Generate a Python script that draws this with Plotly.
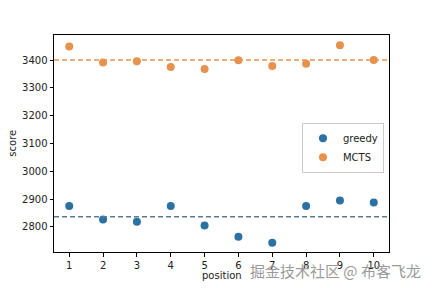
import plotly.graph_objects as go

positions = [1, 2, 3, 4, 5, 6, 7, 8, 9, 10]
greedy = [2875, 2827, 2819, 2875, 2805, 2765, 2743, 2875, 2895, 2888]
mcts = [3449, 3391, 3396, 3375, 3368, 3399, 3379, 3387, 3453, 3400]
y_ticks = [2800, 2900, 3000, 3100, 3200, 3300, 3400]

greedy_mean = sum(greedy) / len(greedy)
mcts_mean = sum(mcts) / len(mcts)

blue = "#2b72a3"
orange = "#e6914c"

fig = go.Figure()
fig.add_trace(go.Scatter(x=positions, y=greedy, mode="markers", name="greedy",
                         marker=dict(color=blue, size=8)))
fig.add_trace(go.Scatter(x=positions, y=mcts, mode="markers", name="MCTS",
                         marker=dict(color=orange, size=8)))
fig.add_hline(y=greedy_mean, line=dict(color="#587d92", width=1.5, dash="5px,3px"))
fig.add_hline(y=mcts_mean, line=dict(color="#e8954c", width=1.5, dash="5px,3px"))

axis_common = dict(showgrid=False, zeroline=False, showline=True, linecolor="black",
                   linewidth=1, mirror=True, ticks="outside", ticklen=3.5,
                   tickcolor="black", automargin=False,
                   tickfont=dict(size=10, color="#222222", family="DejaVu Sans"))

fig.update_xaxes(range=[0.55, 10.45], tickvals=positions, **axis_common)
fig.update_yaxes(range=[2710, 3490], tickvals=y_ticks, **axis_common)

title_font = dict(size=10, color="#222222", family="DejaVu Sans")
fig.add_annotation(text="position", xref="paper", yref="paper", x=0.5, y=-0.11,
                   xanchor="center", yanchor="middle", showarrow=False, font=title_font)
fig.add_annotation(text="score", xref="paper", yref="paper", x=-0.125, y=0.5,
                   xanchor="center", yanchor="middle", showarrow=False, textangle=-90,
                   font=title_font)

fig.add_annotation(text="掘金技术社区 @ 布客飞龙", xref="paper", yref="paper",
                   x=1.1, y=-0.085, xanchor="right", yanchor="middle", showarrow=False,
                   font=dict(size=15, color="#9a9a9a", family="Noto Sans CJK SC"))

fig.update_layout(
    width=432, height=288,
    margin=dict(l=54, r=43, t=35, b=36),
    paper_bgcolor="white", plot_bgcolor="white",
    showlegend=True,
    legend=dict(x=0.985, y=0.48, xanchor="right", yanchor="middle",
                bordercolor="#cccccc", borderwidth=1, bgcolor="white",
                font=dict(size=10, color="#222222", family="DejaVu Sans"),
                itemwidth=30, tracegroupgap=0),
)

fig.write_html("out.html")
